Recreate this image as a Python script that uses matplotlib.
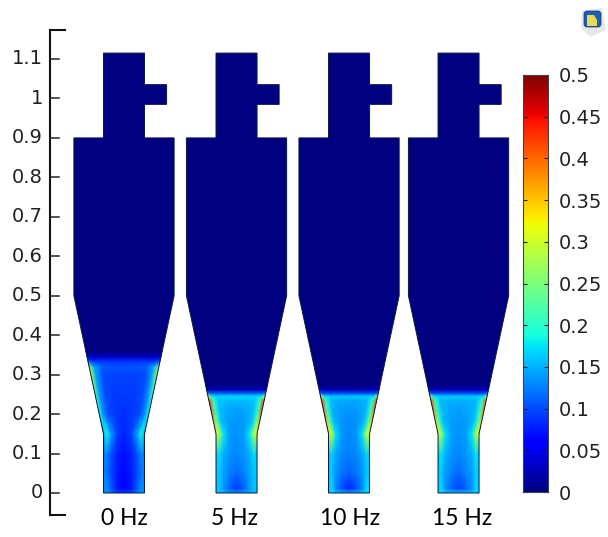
import numpy as np
import matplotlib
matplotlib.use('Agg')
import matplotlib.pyplot as plt
from matplotlib.patches import Polygon, FancyBboxPatch

W, H = 608, 537

# solids fraction
# rows are heights, columns go from the centre line (0) out to the wall (1)
frequencies = ['0 Hz', '5 Hz', '10 Hz', '15 Hz']
centres = [0.0, 0.2852, 0.5704, 0.8479]
label_x = [0.0, 0.281, 0.573, 0.856]
ticks_y = [0, 0.1, 0.2, 0.3, 0.4, 0.5, 0.6, 0.7, 0.8, 0.9, 1, 1.1]
ticks_y_labels = ['0', '0.1', '0.2', '0.3', '0.4', '0.5', '0.6', '0.7', '0.8', '0.9', '1', '1.1']
ticks_c = [0, 0.05, 0.1, 0.15, 0.2, 0.25, 0.3, 0.35, 0.4, 0.45, 0.5]
ticks_c_labels = ['0', '0.05', '0.1', '0.15', '0.2', '0.25', '0.3', '0.35', '0.4', '0.45', '0.5']

wall_pos = [0, 0.35, 0.65, 0.85, 1]

heights_0 = [0, 0.012, 0.05, 0.1, 0.15, 0.2, 0.25, 0.3, 0.32, 0.335, 0.345, 0.36]
field_0 = [[0.09, 0.095, 0.12, 0.135, 0.13],
           [0.06, 0.075, 0.11, 0.135, 0.13],
           [0.065, 0.075, 0.10, 0.12, 0.13],
           [0.07, 0.08, 0.105, 0.13, 0.12],
           [0.08, 0.095, 0.145, 0.19, 0.14],
           [0.085, 0.09, 0.10, 0.135, 0.19],
           [0.09, 0.09, 0.10, 0.14, 0.22],
           [0.095, 0.095, 0.10, 0.145, 0.28],
           [0.105, 0.105, 0.11, 0.145, 0.26],
           [0.085, 0.085, 0.085, 0.085, 0.10],
           [0.03, 0.03, 0.03, 0.03, 0.03],
           [0.0, 0.0, 0.0, 0.0, 0.0]]

heights_5 = [0, 0.012, 0.05, 0.1, 0.15, 0.18, 0.21, 0.235, 0.245, 0.253, 0.262, 0.275]
field_5 = [[0.14, 0.14, 0.15, 0.16, 0.16],
           [0.09, 0.11, 0.14, 0.16, 0.16],
           [0.115, 0.125, 0.145, 0.16, 0.16],
           [0.13, 0.135, 0.15, 0.17, 0.16],
           [0.135, 0.14, 0.18, 0.28, 0.31],
           [0.135, 0.14, 0.155, 0.23, 0.35],
           [0.14, 0.145, 0.155, 0.21, 0.41],
           [0.155, 0.155, 0.16, 0.21, 0.42],
           [0.17, 0.17, 0.17, 0.18, 0.31],
           [0.11, 0.11, 0.11, 0.11, 0.13],
           [0.025, 0.025, 0.025, 0.025, 0.025],
           [0.0, 0.0, 0.0, 0.0, 0.0]]

heights_10 = heights_5
field_10 = [[0.15, 0.15, 0.16, 0.17, 0.16],
            [0.08, 0.10, 0.13, 0.17, 0.16],
            [0.11, 0.12, 0.135, 0.16, 0.16],
            [0.125, 0.13, 0.145, 0.165, 0.16],
            [0.13, 0.135, 0.175, 0.29, 0.30],
            [0.13, 0.135, 0.155, 0.23, 0.35],
            [0.135, 0.14, 0.15, 0.21, 0.40],
            [0.145, 0.145, 0.155, 0.20, 0.42],
            [0.165, 0.165, 0.165, 0.175, 0.30],
            [0.10, 0.10, 0.10, 0.10, 0.12],
            [0.025, 0.025, 0.025, 0.025, 0.025],
            [0.0, 0.0, 0.0, 0.0, 0.0]]

heights_15 = heights_5
field_15 = [[0.16, 0.16, 0.16, 0.17, 0.16],
            [0.095, 0.11, 0.135, 0.17, 0.16],
            [0.115, 0.125, 0.14, 0.165, 0.16],
            [0.13, 0.135, 0.15, 0.175, 0.16],
            [0.135, 0.14, 0.175, 0.28, 0.29],
            [0.135, 0.14, 0.155, 0.22, 0.34],
            [0.14, 0.145, 0.155, 0.21, 0.39],
            [0.15, 0.15, 0.155, 0.20, 0.41],
            [0.165, 0.165, 0.165, 0.175, 0.29],
            [0.10, 0.10, 0.10, 0.10, 0.12],
            [0.025, 0.025, 0.025, 0.025, 0.025],
            [0.0, 0.0, 0.0, 0.0, 0.0]]

fields = [(heights_0, field_0), (heights_5, field_5), (heights_10, field_10), (heights_15, field_15)]

# cyclone outline, half widths in metres
r_body = 0.127
r_duct = 0.052
y_throat = 0.15
y_cone = 0.5
y_body = 0.9
y_top = 1.115
outlet = 0.108


def half_width(y):
    return np.interp(y, [0, y_throat, y_cone], [r_duct, r_duct, r_body])


def outline(cx):
    pts = [(-r_duct, 0), (r_duct, 0), (r_duct, y_throat), (r_body, y_cone), (r_body, y_body),
           (r_duct, y_body), (r_duct, 0.985), (outlet, 0.985), (outlet, 1.035), (r_duct, 1.035),
           (r_duct, y_top), (-r_duct, y_top), (-r_duct, y_body), (-r_body, y_body),
           (-r_body, y_cone), (-r_duct, y_throat)]
    return [(cx + p[0], p[1]) for p in pts]


fig = plt.figure(figsize=(W / 100, H / 100), dpi=100)

scale = (493 - 59) / 1.1
x0_px = 124
y0_px = 493
ax = fig.add_axes([0, 0, 1, 1])
ax.set_xlim(-x0_px / scale, (W - x0_px) / scale)
ax.set_ylim(-(H - y0_px) / scale, y0_px / scale)
ax.axis('off')

cmap = plt.get_cmap('jet')

for cx, lx, (hh, ff), label in zip(centres, label_x, fields, frequencies):
    poly = Polygon(outline(cx), closed=True, facecolor=cmap(0.0), edgecolor='none', zorder=2)
    ax.add_patch(poly)
    hh = np.array(hh)
    half = np.array(ff)
    # mirror the half table about the centre line
    vals = np.hstack([half[:, :0:-1], half])
    s = np.array([-p for p in wall_pos[:0:-1]] + wall_pos)
    X = cx + np.outer(half_width(hh), s)
    Y = np.tile(hh[:, None], (1, len(s)))
    mesh = ax.pcolormesh(X, Y, vals, shading='gouraud', cmap=cmap, vmin=0, vmax=0.5, zorder=3)
    mesh.set_clip_path(poly)
    edge = Polygon(outline(cx), closed=True, facecolor='none', edgecolor='#0a1a40', lw=0.7, zorder=4)
    ax.add_patch(edge)
    ax.text(lx, -0.064, label, ha='center', va='center', fontsize=16.5,
            family='Lato', color='black', zorder=5)

# hand-made axis line with end caps
x_spine = (50 - x0_px) / scale
cap = 15 / scale
tick = 9 / scale
y_low = (y0_px - 515) / scale
y_high = (y0_px - 30) / scale
ax.plot([x_spine + cap, x_spine, x_spine, x_spine + cap], [y_high, y_high, y_low, y_low],
        color='#111111', lw=1.5, solid_joinstyle='miter', zorder=5)
for v, lab in zip(ticks_y, ticks_y_labels):
    ax.plot([x_spine, x_spine + tick], [v, v], color='#222222', lw=1.1, zorder=5)
    ax.text(x_spine - 7 / scale, v, lab, ha='right', va='center', fontsize=14, color='#222222')

# colour bar
cax = fig.add_axes([523 / W, 1 - 492 / H, 25 / W, (492 - 75) / H])
grad = np.linspace(0, 0.5, 256)[:, None]
cax.imshow(grad, origin='lower', aspect='auto', cmap=cmap, vmin=0, vmax=0.5, extent=[0, 1, 0, 0.5])
cax.set_xticks([])
cax.yaxis.tick_right()
cax.set_yticks(ticks_c)
cax.set_yticklabels(ticks_c_labels, fontsize=14, color='#222222')
cax.tick_params(axis='y', direction='in', length=3, width=0.8, pad=8, right=True, left=True, color='#222222')
for sp in cax.spines.values():
    sp.set_linewidth(0.8)
    sp.set_color('#444444')

# small application logo top right
lax = fig.add_axes([0, 0, 1, 1], facecolor='none')
lax.set_xlim(0, W)
lax.set_ylim(H, 0)
lax.axis('off')
lax.add_patch(Polygon([(582, 11), (602, 8), (606, 30), (590, 37), (581, 28)], closed=True,
                      facecolor='#e6e8ea', edgecolor='none'))
lax.add_patch(FancyBboxPatch((585, 12), 15, 14, boxstyle='round,pad=1,rounding_size=3',
                             facecolor='#1d5fb0', edgecolor='#10356e', lw=0.5))
lax.add_patch(Polygon([(587, 15), (594, 15), (597, 20), (597, 26), (587, 26)], closed=True,
                      facecolor='#e8d95a', edgecolor='none'))

fig.savefig('out.png', dpi=100)
